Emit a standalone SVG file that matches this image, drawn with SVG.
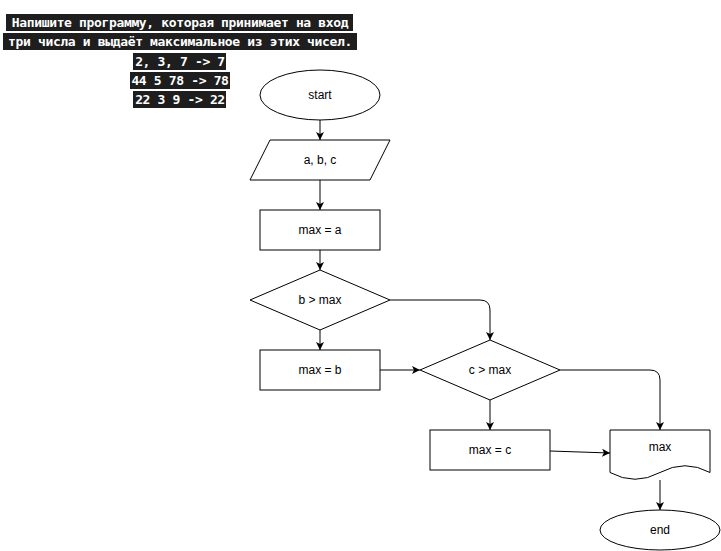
<svg xmlns="http://www.w3.org/2000/svg" width="721" height="551" viewBox="0 0 721 551">
<style>
.s{fill:#fff;stroke:#000;stroke-width:1}
.t{font-family:"Liberation Sans",Arial,sans-serif;font-size:12px;fill:#000;text-anchor:middle;dominant-baseline:central}
.c{fill:none;stroke:#000;stroke-width:1}
.h{font-family:"DejaVu Sans Mono","Liberation Mono",monospace;font-weight:bold;font-size:13px;letter-spacing:-0.35px;fill:#fff;text-anchor:middle;dominant-baseline:central}
.bg{fill:#1e1e1e}
</style>
<defs>
<marker id="a" viewBox="0 0 10 10" refX="10" refY="5" markerWidth="8" markerHeight="8" markerUnits="userSpaceOnUse" orient="auto">
<path d="M0,0 L10,5 L0,10 L2.5,5 Z" fill="#000"/>
</marker>
</defs>
<g id="title">
<rect class="bg" x="6" y="14" width="347" height="17"/>
<rect class="bg" x="3" y="33" width="354" height="17"/>
<rect class="bg" x="133" y="53" width="93" height="17"/>
<rect class="bg" x="130" y="72" width="100" height="17"/>
<rect class="bg" x="133" y="91" width="93" height="17"/>
<text class="h" x="180" y="22.5">Напишите программу, которая принимает на вход</text>
<text class="h" x="180" y="41.5">три числа и выдаёт максимальное из этих чисел.</text>
<text class="h" x="180" y="61.5">2, 3, 7 -&gt; 7</text>
<text class="h" x="180" y="80.5">44 5 78 -&gt; 78</text>
<text class="h" x="180" y="99.5">22 3 9 -&gt; 22</text>
</g>
<g id="connectors">
<path class="c" d="M320,120 V140" marker-end="url(#a)"/>
<path class="c" d="M320,180 V210" marker-end="url(#a)"/>
<path class="c" d="M320,250 V270" marker-end="url(#a)"/>
<path class="c" d="M320,330 V350" marker-end="url(#a)"/>
<path class="c" d="M390,300 H480 Q490,300 490,310 V340" marker-end="url(#a)"/>
<path class="c" d="M380,370 H420" marker-end="url(#a)"/>
<path class="c" d="M490,400 V430" marker-end="url(#a)"/>
<path class="c" d="M550,451 L610,453" marker-end="url(#a)"/>
<path class="c" d="M560,370 H650 Q660,370 660,380 V430" marker-end="url(#a)"/>
<path class="c" d="M660,480 V510" marker-end="url(#a)"/>
</g>
<g id="start">
<ellipse class="s" cx="320" cy="95" rx="60" ry="25"/>
<text class="t" x="320" y="95">start</text>
</g>
<g id="input">
<path class="s" d="M270,140 H390 L370,180 H250 Z"/>
<text class="t" x="320" y="160">a, b, c</text>
</g>
<g id="maxa">
<rect class="s" x="260" y="210" width="120" height="40"/>
<text class="t" x="320" y="230">max = a</text>
</g>
<g id="cond1">
<path class="s" d="M320,270 L390,300 L320,330 L250,300 Z"/>
<text class="t" x="320" y="300">b &gt; max</text>
</g>
<g id="maxb">
<rect class="s" x="260" y="350" width="120" height="40"/>
<text class="t" x="320" y="370">max = b</text>
</g>
<g id="cond2">
<path class="s" d="M490,340 L560,370 L490,400 L420,370 Z"/>
<text class="t" x="490" y="370">c &gt; max</text>
</g>
<g id="maxc">
<rect class="s" x="430" y="430" width="120" height="40"/>
<text class="t" x="490" y="450">max = c</text>
</g>
<g id="output">
<path class="s" d="M610,430 H710 V472.5 Q685,459 660,472.5 Q635,486 610,472.5 Z"/>
<text class="t" x="660" y="447">max</text>
</g>
<g id="end">
<ellipse class="s" cx="660" cy="530" rx="60" ry="20"/>
<text class="t" x="660" y="530">end</text>
</g>
</svg>
